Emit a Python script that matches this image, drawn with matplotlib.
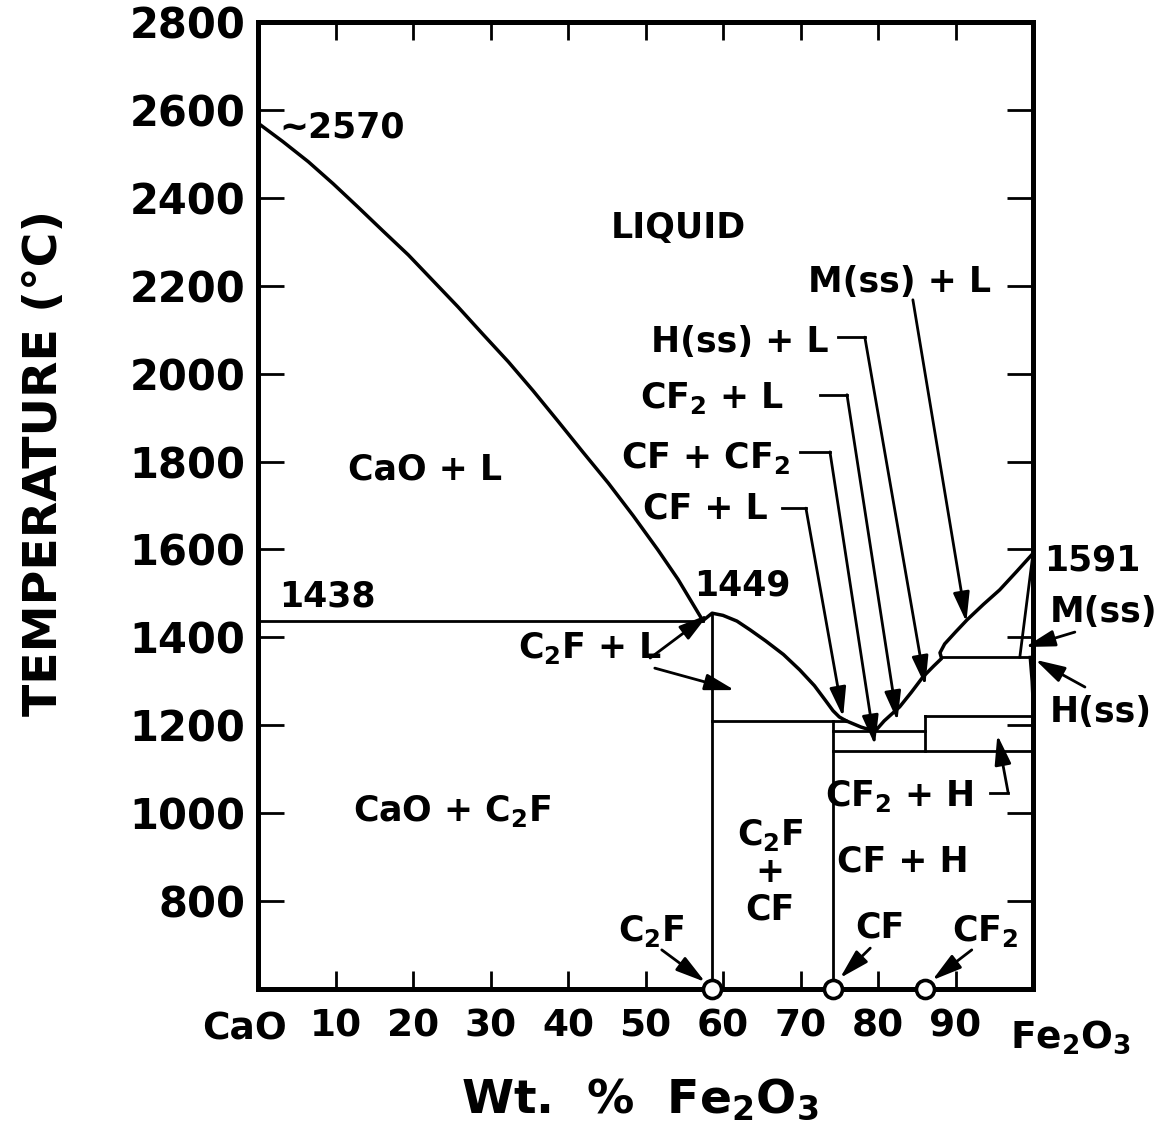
import matplotlib
matplotlib.use('Agg')
import matplotlib.pyplot as plt

plt.rcParams['font.family'] = ['DejaVu Sans']
plt.rcParams['font.weight'] = 'bold'
plt.rcParams['mathtext.default'] = 'bf'

# CaO - Fe2O3 phase diagram (wt. % Fe2O3 vs temperature, deg C)
cao_liq_x = [0, 3.2, 6.5, 9.7, 12.9, 16.1, 19.4, 22.6, 25.8, 29.0, 32.3,
             35.5, 38.7, 41.9, 45.2, 48.4, 51.6, 54.2, 57.4]
cao_liq_t = [2570, 2528, 2482, 2432, 2379, 2325, 2270, 2211, 2152, 2090, 2027,
             1961, 1892, 1822, 1751, 1677, 1599, 1532, 1438]

c2f_liq_x = [57.4, 58.6, 60.0, 61.8, 63.5, 65.5, 67.8, 69.9, 71.8, 73.2,
             74.2, 75.0, 75.9]
c2f_liq_t = [1438, 1455, 1450, 1437, 1417, 1392, 1361, 1326, 1290, 1257,
             1233, 1219, 1210]

fe_liq_x = [75.9, 77.8, 79.6, 80.8, 82.8, 84.3, 85.8, 87.2, 88.2, 88.0, 88.6,
            90.0, 91.5, 93.6, 95.7, 97.9, 100]
fe_liq_t = [1210, 1196, 1186, 1210, 1242, 1275, 1310, 1335, 1352, 1365, 1385,
            1412, 1440, 1475, 1508, 1550, 1591]

# isotherms
iso_t = [1438, 1210, 1186, 1221, 1142, 1355]
iso_x0 = [0, 58.6, 74.2, 86.1, 74.2, 88.2]
iso_x1 = [57.4, 75.9, 86.1, 100, 100, 99.6]

# compounds C2F, CF, CF2
comp_x = [58.6, 74.2, 86.1]
comp_tlo = [600, 600, 1142]
comp_thi = [1455, 1210, 1221]

# magnetite / hematite solid solution boundaries near Fe2O3
mss_x = [100, 98.3]
mss_t = [1591, 1355]
hss_x = [99.6, 99.85, 100]
hss_t = [1355, 1300, 1242]

yticks = [800, 1000, 1200, 1400, 1600, 1800, 2000, 2200, 2400, 2600, 2800]
xticks = [10, 20, 30, 40, 50, 60, 70, 80, 90]

W, H = 1170, 1142
fig = plt.figure(figsize=(W / 100, H / 100), dpi=100)
ax = fig.add_axes([258 / W, 1 - 989 / H, (1033 - 258) / W, (989 - 22) / H])
ax.set_xlim(0, 100)
ax.set_ylim(600, 2800)

lw = 2.5
ax.plot(cao_liq_x, cao_liq_t, color='k', lw=lw, solid_joinstyle='round')
ax.plot(c2f_liq_x, c2f_liq_t, color='k', lw=lw, solid_joinstyle='round')
ax.plot(fe_liq_x, fe_liq_t, color='k', lw=lw, solid_joinstyle='round')
for t, x0, x1 in zip(iso_t, iso_x0, iso_x1):
    ax.plot([x0, x1], [t, t], color='k', lw=2.0)
for x, lo, hi in zip(comp_x, comp_tlo, comp_thi):
    ax.plot([x, x], [lo, hi], color='k', lw=2.0)
ax.plot(mss_x, mss_t, color='k', lw=2.0)
ax.plot(hss_x, hss_t, color='k', lw=2.0)

ax.plot(comp_x, [600] * len(comp_x), 'o', ms=13, mfc='white', mec='k',
        mew=2.6, clip_on=False, zorder=5)

for s in ax.spines.values():
    s.set_linewidth(3.6)

ax.set_yticks(yticks)
ax.set_yticklabels([str(v) for v in yticks])
ax.set_xticks(xticks)
ax.set_xticklabels([str(v) for v in xticks])
ax.tick_params(axis='y', direction='in', length=19, width=2.0, left=True,
               right=True, labelsize=30, pad=9)
ax.tick_params(axis='x', direction='in', length=13, width=2.0, bottom=True,
               top=True, labelsize=27, pad=14)

ax.text(-1.7, 507, 'CaO', fontsize=27, ha='center', va='center')
ax.text(104.8, 490, 'Fe$_2$O$_3$', fontsize=27, ha='center', va='center')

fig.text(45 / W, 1 - 463 / H, 'TEMPERATURE (°C)', rotation=90, fontsize=34,
         ha='center', va='center')
fig.text(640 / W, 1 - 1100 / H, 'Wt.  %  Fe$_2$O$_3$', fontsize=34,
         ha='center', va='center')

fs = 25
def label(x, t, s, **kw):
    kw.setdefault('ha', 'center')
    ax.text(x, t, s, fontsize=fs, va='center', **kw)

def arrow(tail, head):
    ax.annotate('', xy=head, xytext=tail, annotation_clip=False,
                arrowprops=dict(arrowstyle='-|>,head_length=0.9,head_width=0.25',
                                color='k', lw=2.0, mutation_scale=20,
                                shrinkA=0, shrinkB=0))

def leader(x0, x1, t, head):
    ax.plot([x0, x1], [t, t], color='k', lw=2.0, clip_on=False)
    arrow((x1, t), head)

label(2.8, 2561, '~2570', ha='left')
label(54.2, 2332, 'LIQUID')
label(21.5, 1781, 'CaO + L')
label(9.0, 1492, '1438')
label(62.5, 1519, '1449')
label(42.8, 1375, 'C$_2$F + L')
arrow((50.6, 1353), (58.1, 1452))
arrow((51.2, 1330), (61.5, 1280))
label(25.0, 1005, 'CaO + C$_2$F')
label(66.1, 950, 'C$_2$F')
label(66.1, 866, '+')
label(66.1, 780, 'CF')
label(83.2, 889, 'CF + H')
label(82.8, 1040, 'CF$_2$ + H')
leader(94.5, 96.8, 1046, (95.4, 1178))

label(57.7, 1694, 'CF + L')
leader(67.6, 70.7, 1694, (75.5, 1219))
label(57.7, 1808, 'CF + CF$_2$')
leader(69.9, 73.8, 1822, (79.6, 1155))
label(58.6, 1945, 'CF$_2$ + L')
leader(72.5, 76.0, 1952, (82.5, 1210))
label(62.2, 2072, 'H(ss) + L')
leader(74.8, 78.3, 2083, (86.1, 1290))
label(82.8, 2209, 'M(ss) + L')
arrow((84.5, 2168), (91.4, 1435))

label(101.5, 1576, '1591', ha='left')
label(102.2, 1458, 'M(ss)', ha='left')
arrow((105.4, 1412), (99.0, 1378))
label(102.2, 1230, 'H(ss)', ha='left')
arrow((106.7, 1287), (100.3, 1349))

label(50.8, 732, 'C$_2$F')
arrow((52.1, 689), (57.7, 616))
label(80.3, 739, 'CF')
arrow((79.0, 693), (75.1, 625))
label(93.8, 732, 'CF$_2$')
arrow((92.1, 689), (87.0, 620))

fig.savefig('out.png', dpi=100)
